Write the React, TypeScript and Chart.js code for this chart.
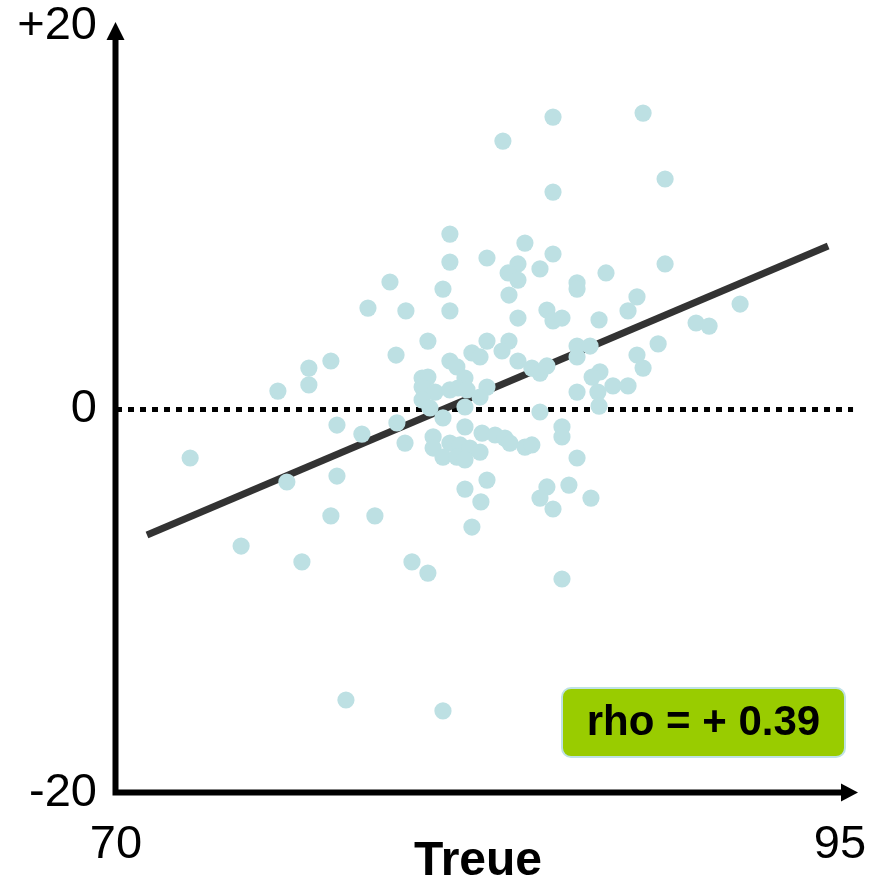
import { useEffect, useRef } from "react";
import { Chart, registerables } from "chart.js";

Chart.register(...registerables);

// Treue (x) vs. change (y)
const treue = [
  88.2, 85.09, 83.36, 88.96, 85.09, 81.53, 84.12, 81.53, 82.81, 85.09,
  83.88, 83.54, 83.88, 84.64, 86.92, 88.96, 85.92, 85.92, 81.29, 83.57,
  87.99, 87.68, 80.01, 81.53, 84.88, 85.09, 85.4, 83.88, 86.68, 90.03,
  90.48, 91.55, 79.46, 78.7, 80.77, 82.81, 83.57, 83.33, 85.92, 86.37,
  85.92, 88.72, 87.99, 88.2, 79.67, 77.42, 76.66, 82.29, 82.57, 81.53,
  81.77, 83.88, 84.36, 84.64, 84.88, 86.71, 86.44, 76.66, 75.59, 80.57,
  80.77, 82.05, 80.57, 81.02, 81.53, 81.81, 82.12, 82.81, 82.57, 85.92,
  86.64, 87.16, 87.68, 86.68, 80.57, 80.84, 82.05, 84.64, 81.29, 79.7,
  82.05, 77.63, 78.49, 79.98, 80.95, 82.64, 83.09, 83.43, 83.6, 84.12,
  84.36, 85.4, 85.4, 80.95, 81.53, 81.88, 82.22, 82.57, 81.29, 81.77,
  82.05, 85.92, 72.56, 75.9, 77.63, 82.81, 82.05, 82.6, 82.29, 84.88,
  84.64, 85.64, 85.09, 86.4, 77.42, 78.94, 74.32, 76.42, 80.22, 80.77,
  85.4, 77.94, 81.29,
];
const change = [
  15.46, 15.25, 14.0, 12.02, 11.34, 9.15, 8.68, 7.69, 7.9, 8.11,
  7.59, 7.12, 6.75, 7.33, 7.12, 7.59, 6.6, 6.28, 6.28, 5.97,
  5.87, 5.14, 5.14, 5.14, 5.19, 4.62, 4.77, 4.77, 4.67, 4.51,
  4.35, 5.5, 6.65, 5.29, 3.57, 3.57, 3.57, 3.05, 3.31, 3.31,
  2.74, 3.42, 2.84, 2.16, 2.84, 2.53, 2.16, 2.95, 2.74, 2.53,
  2.22, 2.53, 2.16, 1.9, 2.27, 1.96, 1.69, 1.28, 0.96, 1.64,
  1.69, 1.64, 1.17, 0.91, 1.02, 1.12, 1.02, 1.17, 0.65, 0.91,
  0.91, 1.23, 1.23, 0.18, 0.5, 0.08, 0.13, -0.13, -0.44, -0.7,
  -0.91, -0.81, -1.28, -1.75, -1.43, -1.23, -1.33, -1.49, -1.75, -1.96,
  -1.85, -0.91, -1.43, -2.01, -1.75, -1.85, -2.01, -2.22, -2.48, -2.48,
  -2.63, -2.53, -2.53, -3.78, -3.47, -3.68, -4.15, -4.82, -6.13, -4.04,
  -4.62, -3.94, -5.19, -4.62, -5.55, -5.55, -7.12, -7.95, -7.95, -8.53,
  -8.84, -15.15, -15.72,
];

// regression line and zero reference line
const fitX = [71.07, 94.59];
const fitY = [-6.55, 8.53];
const zeroX = [70, 95.45];
const zeroY = [0, 0];

// axis ticks and labels
const xTicks = [70, 95];
const yTicks = [-20, 0, 20];
const xTitle = "Treue";
const rhoLabel = "rho = + 0.39";

const FONT = '"Liberation Sans", Arial, Helvetica, sans-serif';

const overlay = {
  id: "overlay",
  beforeDatasetsDraw(chart: any) {
    const { ctx, chartArea: a } = chart;
    ctx.save();
    ctx.fillStyle = "#000";
    ctx.strokeStyle = "#000";
    ctx.lineWidth = 6;
    ctx.lineCap = "butt";
    ctx.beginPath();
    // y axis
    ctx.moveTo(a.left - 0.5, a.bottom + 2.5);
    ctx.lineTo(a.left - 0.5, a.top + 12);
    // x axis
    ctx.moveTo(a.left - 3.5, a.bottom - 0.5);
    ctx.lineTo(a.right + 6, a.bottom - 0.5);
    ctx.stroke();
    // arrow heads
    ctx.beginPath();
    ctx.moveTo(a.left - 0.5, a.top - 4);
    ctx.lineTo(a.left - 9.5, a.top + 14);
    ctx.lineTo(a.left + 8.5, a.top + 14);
    ctx.closePath();
    ctx.fill();
    ctx.beginPath();
    ctx.moveTo(a.right + 18, a.bottom - 0.5);
    ctx.lineTo(a.right + 1, a.bottom - 9.5);
    ctx.lineTo(a.right + 1, a.bottom + 8.5);
    ctx.closePath();
    ctx.fill();
    ctx.restore();
  },
  afterDatasetsDraw(chart: any) {
    const { ctx, chartArea: a } = chart;
    const x0 = a.right - 278;
    const x1 = a.right + 5;
    const y1 = a.bottom - 36;
    const y0 = y1 - 69;
    ctx.save();
    ctx.beginPath();
    ctx.roundRect(x0, y0, x1 - x0, y1 - y0, 9);
    ctx.fillStyle = "#99cc00";
    ctx.fill();
    ctx.lineWidth = 2;
    ctx.strokeStyle = "#bfe2e4";
    ctx.stroke();
    ctx.fillStyle = "#000";
    ctx.font = `bold 42px ${FONT}`;
    ctx.textAlign = "center";
    ctx.textBaseline = "middle";
    ctx.fillText(rhoLabel, (x0 + x1) / 2, (y0 + y1) / 2 + 1);
    ctx.restore();
  },
};

const noEdgePadding = (s: any) => {
  s.paddingTop = 0;
  s.paddingBottom = 0;
  s.paddingLeft = 0;
  s.paddingRight = 0;
};

export default function App() {
  const ref = useRef<HTMLCanvasElement | null>(null);

  useEffect(() => {
    if (!ref.current) return;
    const points = treue.map((x, i) => ({ x, y: change[i] }));
    const fit = fitX.map((x, i) => ({ x, y: fitY[i] }));
    const zero = zeroX.map((x, i) => ({ x, y: zeroY[i] }));

    const chart = new Chart(ref.current, {
      type: "scatter",
      data: {
        datasets: [
          {
            data: points,
            pointRadius: 8.6,
            pointHoverRadius: 8.6,
            pointBackgroundColor: "#bde0e3",
            pointBorderWidth: 0,
            backgroundColor: "#bde0e3",
            borderWidth: 0,
            clip: false,
          } as any,
          {
            data: fit,
            showLine: true,
            borderColor: "#333333",
            borderWidth: 7,
            pointRadius: 0,
            borderCapStyle: "butt",
            clip: false,
          } as any,
          {
            data: zero,
            showLine: true,
            borderColor: "#000000",
            borderWidth: 5,
            borderDash: [6, 6],
            pointRadius: 0,
            borderCapStyle: "butt",
            clip: false,
          } as any,
        ],
      },
      options: {
        responsive: false,
        animation: false,
        events: [],
        layout: { padding: { left: 0, top: 26, right: 45, bottom: 0 } },
        plugins: { legend: { display: false }, tooltip: { enabled: false } },
        scales: {
          x: {
            type: "linear",
            min: 70,
            max: 95,
            grid: { display: false, drawTicks: false },
            border: { display: false },
            afterBuildTicks: (s: any) => {
              s.ticks = xTicks.map((value) => ({ value }));
            },
            afterFit: (s: any) => {
              s.height = 93;
              noEdgePadding(s);
            },
            ticks: {
              padding: 29,
              color: "#000",
              maxRotation: 0,
              autoSkip: false,
              font: { family: FONT, size: 47, lineHeight: 1 },
              callback: (v: any) => String(v),
            },
            title: {
              display: true,
              text: xTitle,
              color: "#000",
              padding: { top: 0, bottom: 0 },
              font: { family: FONT, size: 48, weight: "bold", lineHeight: 1 },
            },
          },
          y: {
            type: "linear",
            min: -20,
            max: 20,
            grid: { display: false, drawTicks: false },
            border: { display: false },
            afterBuildTicks: (s: any) => {
              s.ticks = yTicks.map((value) => ({ value }));
            },
            afterFit: (s: any) => {
              s.width = 116;
              noEdgePadding(s);
            },
            ticks: {
              padding: 19,
              color: "#000",
              autoSkip: false,
              font: { family: FONT, size: 47, lineHeight: 1 },
              callback: (v: any) => (v > 0 ? "+" + v : String(v)),
            },
          },
        },
      },
      plugins: [overlay],
    });
    return () => chart.destroy();
  }, []);

  return (
    <canvas
      ref={ref}
      width={885}
      height={886}
      style={{ position: "absolute", left: 0, top: 0, width: 885, height: 886, display: "block" }}
    />
  );
}
